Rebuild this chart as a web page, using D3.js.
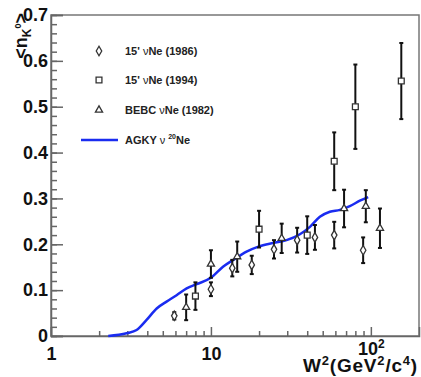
<!DOCTYPE html>
<html>
<head>
<meta charset="utf-8">
<script src="https://cdn.jsdelivr.net/npm/d3@7"></script>
<style>
  body { margin: 0; background: #fff; }
  text { font-family: 'Liberation Sans', Arial, sans-serif; font-weight: bold; }
</style>
</head>
<body>
<div class="canvas"></div>
<script>
// 15' nu Ne (1986) - diamonds
const w1986 = [5.9, 10, 13.6, 18, 24.8, 34.6, 44.7, 59, 89.5];
const n1986 = [0.044, 0.102, 0.148, 0.155, 0.189, 0.209, 0.215, 0.22, 0.187];
const e1986 = [0.008, 0.015, 0.018, 0.02, 0.02, 0.027, 0.027, 0.029, 0.028];

// 15' nu Ne (1994) - squares
const w1994 = [8, 20, 40, 59, 80, 155];
const n1994 = [0.087, 0.233, 0.22, 0.381, 0.5, 0.556];
const e1994 = [0.03, 0.04, 0.041, 0.063, 0.092, 0.083];

// BEBC nu Ne (1982) - triangles
const wBebc = [7, 10, 14.6, 27.7, 68, 93, 114];
const nBebc = [0.0625, 0.157, 0.173, 0.213, 0.278, 0.283, 0.235];
const eBebc = [0.028, 0.03, 0.033, 0.032, 0.041, 0.035, 0.043];

// AGKY model curve
const wAgky = [2.28, 2.97, 3.43, 3.96, 4.58, 5.28, 6.1, 7.05, 8.14, 10.1, 11.9, 13.8, 16.7,
    19.8, 24.5, 29.7, 36, 41.6, 48, 55.4, 64, 73.9, 85.4, 96.2];
const nAgky = [0, 0.006, 0.013, 0.035, 0.06, 0.075, 0.089, 0.104, 0.113, 0.128, 0.151, 0.166, 0.184,
    0.195, 0.203, 0.209, 0.222, 0.238, 0.26, 0.271, 0.275, 0.283, 0.295, 0.303];

const yTicks = [0, 0.1, 0.2, 0.3, 0.4, 0.5, 0.6, 0.7];
const xTicks = [1, 10, 100];
const xMinor = [2, 3, 4, 5, 6, 7, 8, 9, 20, 30, 40, 50, 60, 70, 80, 90];

const svg = d3.select('.canvas')
    .append('svg')
        .attr('width', 421)
        .attr('height', 377);

svg.append('rect')
    .attr('width', 421)
    .attr('height', 377)
    .attr('fill', '#fff');

const x = d3.scaleLog()
    .domain([1, 200])
    .range([51, 419]);

const y = d3.scaleLinear()
    .domain([0, 0.7])
    .range([336, 15]);

// frame
svg.append('rect')
    .attr('x', x(1))
    .attr('y', y(0.7))
    .attr('width', x(200) - x(1))
    .attr('height', y(0) - y(0.7))
    .attr('fill', 'none')
    .attr('stroke', '#777')
    .attr('stroke-width', 1.5);

// y axis
const yMinor = d3.range(0, 0.7001, 0.02);
svg.append('g')
    .attr('transform', `translate(${x(1)},0)`)
    .call(d3.axisLeft(y).tickValues(yMinor).tickSize(-6).tickFormat(''))
    .call(g => g.select('.domain').remove());

const yAxis = svg.append('g')
    .attr('transform', `translate(${x(1)},0)`)
    .call(d3.axisLeft(y).tickValues(yTicks).tickSize(-12).tickPadding(3)
        .tickFormat(d => d === 0 ? '0' : d3.format('.1f')(d)));

// x axis
svg.append('g')
    .attr('transform', `translate(0,${y(0)})`)
    .call(d3.axisBottom(x).tickValues(xMinor).tickSize(-5).tickFormat(''))
    .call(g => g.select('.domain').remove());

const xAxis = svg.append('g')
    .attr('transform', `translate(0,${y(0)})`)
    .call(d3.axisBottom(x).tickValues(xTicks).tickSize(-9).tickPadding(12).tickFormat(''));

svg.selectAll('.tick line').attr('stroke', '#666').attr('stroke-width', 1.5);
svg.selectAll('.domain').attr('stroke', '#666').attr('stroke-width', 1.5);
yAxis.selectAll('text')
    .attr('font-size', 18)
    .attr('fill', '#111');

const xLabels = xAxis.selectAll('.tick')
    .append('text')
    .attr('fill', '#111')
    .attr('font-size', 18)
    .attr('text-anchor', 'middle')
    .attr('y', d => d === 100 ? 19 : 24);
xLabels.filter(d => d < 100).text(d => d);
const hundred = xLabels.filter(d => d === 100);
hundred.append('tspan').text('10');
hundred.append('tspan').attr('font-size', 12).attr('dy', -7).text('2');

// axis titles
const xTitle = svg.append('text')
    .attr('x', 418)
    .attr('y', 372)
    .attr('text-anchor', 'end')
    .attr('font-size', 19)
    .attr('letter-spacing', 0.8)
    .attr('fill', '#111');
xTitle.append('tspan').text('W');
xTitle.append('tspan').attr('font-size', 13).attr('dy', -7).text('2');
xTitle.append('tspan').attr('dy', 7).text('(GeV');
xTitle.append('tspan').attr('font-size', 13).attr('dy', -7).text('2');
xTitle.append('tspan').attr('dy', 7).text('/c');
xTitle.append('tspan').attr('font-size', 13).attr('dy', -7).text('4');
xTitle.append('tspan').attr('dy', 7).text(')');

const yTitle = svg.append('text')
    .attr('transform', 'translate(27,13) rotate(-90)')
    .attr('text-anchor', 'end')
    .attr('font-size', 18)
    .attr('fill', '#111');
yTitle.append('tspan').text('<n');
yTitle.append('tspan').attr('font-size', 12).attr('dy', 4).text('K');
yTitle.append('tspan').attr('font-size', 9).attr('dy', -10).text('0');
yTitle.append('tspan').attr('dy', 6).text('>');

// model curve
const curve = d3.line()
    .x(d => x(d[0]))
    .y(d => y(d[1]))
    .curve(d3.curveMonotoneX);

svg.append('path')
    .datum(d3.zip(wAgky, nAgky))
    .attr('fill', 'none')
    .attr('stroke', '#1a2cf0')
    .attr('stroke-width', 2.5)
    .attr('d', curve);

// data points with error bars
const series = [
    {w: w1986, n: n1986, e: e1986, sym: d3.symbolDiamond, size: 26},
    {w: w1994, n: n1994, e: e1994, sym: d3.symbolSquare, size: 34},
    {w: wBebc, n: nBebc, e: eBebc, sym: d3.symbolTriangle, size: 22}
];

series.forEach(s => {
    const pts = s.w.map((w, i) => ({w: w, n: s.n[i], e: s.e[i]}));
    const g = svg.append('g');

    g.selectAll('line.err')
        .data(pts)
        .enter()
        .append('line')
        .attr('class', 'err')
        .attr('stroke', '#111')
        .attr('stroke-width', 2)
        .attr('x1', d => x(d.w))
        .attr('x2', d => x(d.w))
        .attr('y1', d => y(d.n + d.e))
        .attr('y2', d => y(d.n - d.e));

    ['top', 'bottom'].forEach(end => {
        g.selectAll('line.cap-' + end)
            .data(pts)
            .enter()
            .append('line')
            .attr('class', 'cap-' + end)
            .attr('stroke', '#111')
            .attr('stroke-width', 2)
            .attr('x1', d => x(d.w) - 2)
            .attr('x2', d => x(d.w) + 2)
            .attr('y1', d => y(end === 'top' ? d.n + d.e : d.n - d.e))
            .attr('y2', d => y(end === 'top' ? d.n + d.e : d.n - d.e));
    });

    g.selectAll('path.marker')
        .data(pts)
        .enter()
        .append('path')
        .attr('class', 'marker')
        .attr('fill', '#fff')
        .attr('stroke', '#333')
        .attr('stroke-width', 1.3)
        .attr('transform', d => `translate(${x(d.w)},${y(d.n)})`)
        .attr('d', d3.symbol().type(s.sym).size(s.size));
});

// legend
const legendRows = [
    {label: ['15\' ', 'ν', 'Ne (1986)'], sym: d3.symbolDiamond, size: 26, yPos: 51},
    {label: ['15\' ', 'ν', 'Ne (1994)'], sym: d3.symbolSquare, size: 34, yPos: 80},
    {label: ['BEBC ', 'ν', 'Ne (1982)'], sym: d3.symbolTriangle, size: 22, yPos: 110}
];

legendRows.forEach(r => {
    svg.append('path')
        .attr('fill', '#fff')
        .attr('stroke', '#333')
        .attr('stroke-width', 1.3)
        .attr('transform', `translate(99,${r.yPos})`)
        .attr('d', d3.symbol().type(r.sym).size(r.size));
    const t = svg.append('text')
        .attr('x', 125)
        .attr('y', r.yPos + 4)
        .attr('font-size', 11)
        .attr('fill', '#222');
    t.append('tspan').text(r.label[0]);
    t.append('tspan').attr('font-weight', 'normal').text(r.label[1]);
    t.append('tspan').text(r.label[2]);
});

svg.append('line')
    .attr('x1', 81)
    .attr('x2', 118)
    .attr('y1', 140)
    .attr('y2', 140)
    .attr('stroke', '#1a2cf0')
    .attr('stroke-width', 2.5);

const agky = svg.append('text')
    .attr('x', 125)
    .attr('y', 144)
    .attr('font-size', 11)
    .attr('fill', '#222');
agky.append('tspan').text('AGKY ');
agky.append('tspan').attr('font-weight', 'normal').text('ν ');
agky.append('tspan').attr('font-size', 7).attr('dy', -5).text('20');
agky.append('tspan').attr('dy', 5).text('Ne');
</script>
</body>
</html>
